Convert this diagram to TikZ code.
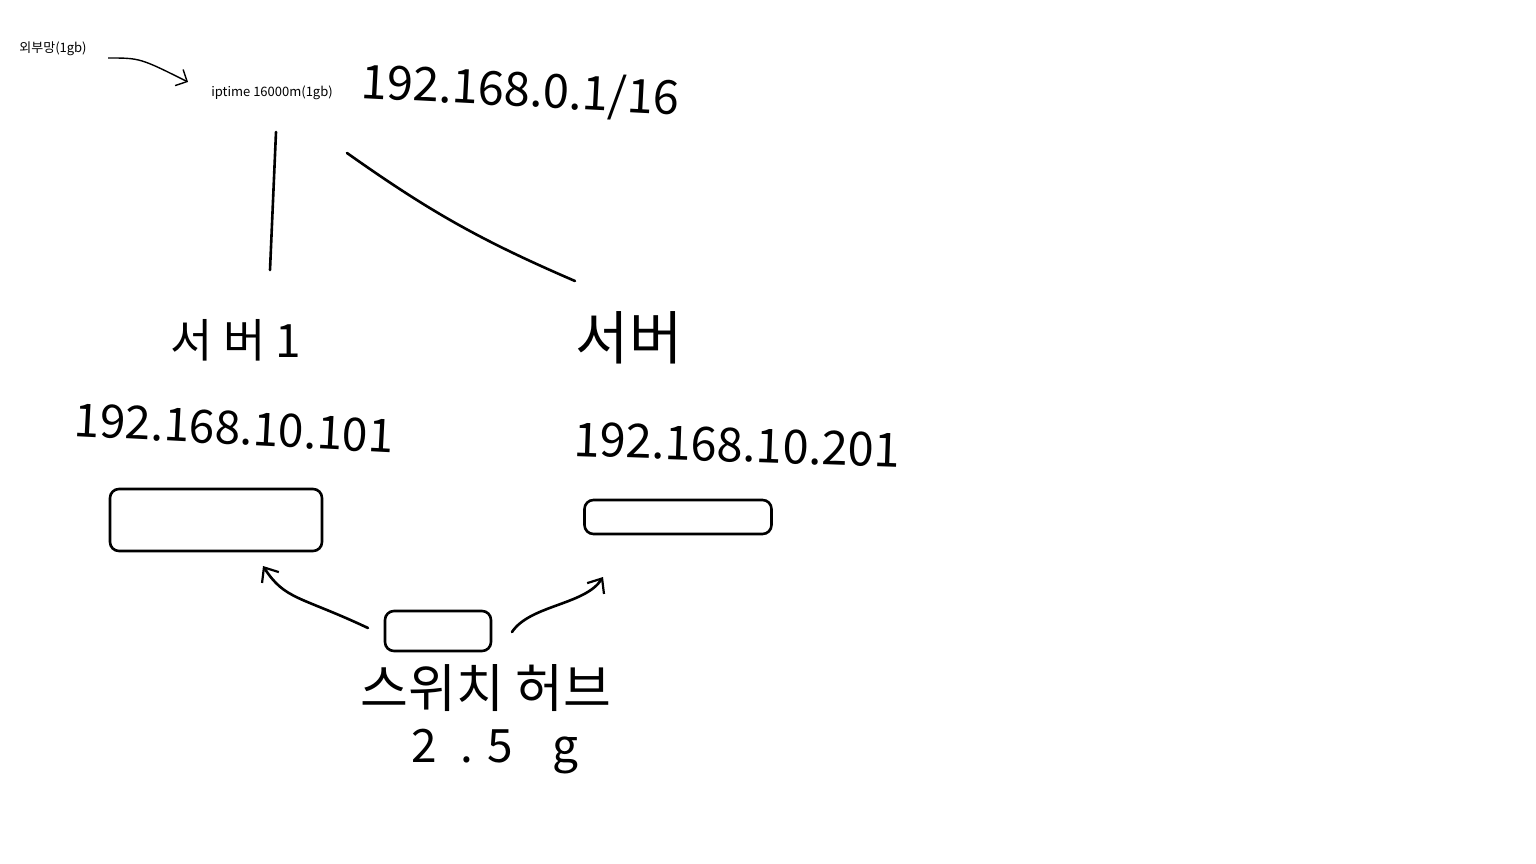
\documentclass[tikz,border=0pt]{standalone}
\usepackage{fontspec}
\setmainfont{Noto Sans CJK KR}
\usetikzlibrary{arrows.meta}

\begin{document}
\begin{tikzpicture}[x=1pt,y=-1pt,
  typed/.style={font=\fontsize{13}{15}\selectfont},
  hand/.style={font=\fontsize{#1}{#1}\selectfont},
  wire/.style={line width=2.6pt,line cap=round,line join=round},
  box/.style={draw,line width=2.6pt,rounded corners=9pt,minimum width=#1},
  tip/.style={-{Straight Barb[length=12pt,width=20pt,line width=2.2pt]}}]
  \useasboundingbox (0,0) rectangle (1536,864);
  % router and outside line
  \node[typed] (wan) at (53,49) {외부망(1gb)};
  \node[typed] (rt) at (272,93) {iptime 16000m(1gb)};
  \node[hand=47,rotate=-3] (rtip) at (520,92) {192.168.0.1/16};
  \coordinate (wanend) at (108,58);
  \coordinate (rtin) at (188,82);
  \draw[line width=1.4pt,-{Straight Barb[length=9pt,width=18pt,line width=1.4pt]}]
    (wanend) .. controls (140,58) .. (rtin);
  % servers
  \node[hand=46] (srvA) at (236,340) {서 버 1};
  \node[hand=58] (srvB) at (629,338) {서버};
  \node[hand=46,rotate=-3] (ipA) at (234,428) {192.168.10.101};
  \node[hand=47,rotate=-2] (ipB) at (737,445) {192.168.10.201};
  \node[box=212pt,minimum height=62pt] (boxA) at (216,520) {};
  \node[box=187pt,minimum height=34pt] (boxB) at (678,517) {};
  % cables from router
  \coordinate (rtA) at (276,132);
  \coordinate (rtB) at (347,153);
  \coordinate (toA) at (270,270);
  \coordinate (toB) at (575,281);
  \draw[wire] (rtA) -- (toA);
  \draw[wire] (rtB) to[bend right=6] (toB);
  % switch
  \node[box=106pt,minimum height=40pt] (sw) at (438,631) {};
  \node[hand=52] (swtxt) at (486,688) {스위치 허브};
  \node[hand=46] (swspd) at (495,752) {2\hspace{24pt}.\hspace{14pt}5\hspace{40pt}g};
  \coordinate (swA) at (368,628);
  \coordinate (swB) at (512,632);
  \coordinate (inA) at (263,566);
  \coordinate (inB) at (603,577);
  \draw[wire,tip] (swA) .. controls (300,596) and (285,600) .. (inA);
  \draw[wire,tip] (swB) .. controls (530,605) and (585,605) .. (inB);
\end{tikzpicture}
\end{document}
